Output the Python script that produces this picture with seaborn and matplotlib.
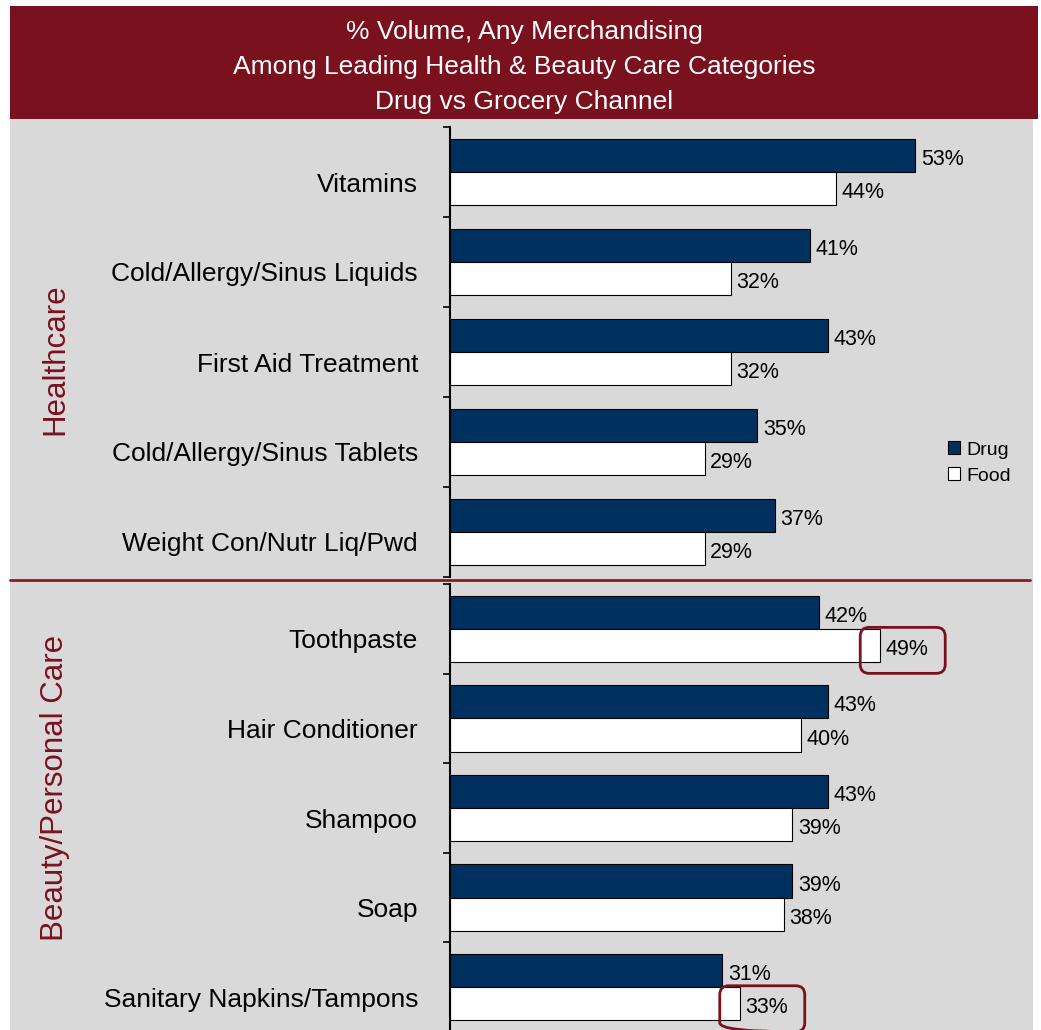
import numpy as np
import pandas as pd
import matplotlib
matplotlib.use("Agg")
import matplotlib.pyplot as plt
from matplotlib.patches import Rectangle, FancyBboxPatch, Patch
from matplotlib.lines import Line2D
from matplotlib.transforms import ScaledTranslation
import seaborn as sns

sns.set_theme(style="white")
plt.rcParams["font.family"] = ["Liberation Sans", "DejaVu Sans"]

# ---- data ----
title_lines = [
    "% Volume, Any Merchandising",
    "Among Leading Health & Beauty Care Categories",
    "Drug vs Grocery Channel",
]
channels = ["Drug", "Food"]

segments = ["Healthcare", "Beauty/Personal Care"]

healthcare_categories = [
    "Vitamins",
    "Cold/Allergy/Sinus Liquids",
    "First Aid Treatment",
    "Cold/Allergy/Sinus Tablets",
    "Weight Con/Nutr Liq/Pwd",
]
healthcare_drug = [53, 41, 43, 35, 37]
healthcare_food = [44, 32, 32, 29, 29]

beauty_categories = [
    "Toothpaste",
    "Hair Conditioner",
    "Shampoo",
    "Soap",
    "Sanitary Napkins/Tampons",
]
beauty_drug = [42, 43, 43, 39, 31]
beauty_food = [49, 40, 39, 38, 33]

# categories where the Food share is called out
highlighted = ["Toothpaste", "Sanitary Napkins/Tampons"]

# ---- style ----
NAVY = "#00305F"
MAROON = "#7A111E"
PANEL = "#D9D9D9"
palette = {"Drug": NAVY, "Food": "white"}
X_MAX = 66.4

W, H = 1041, 1030
fig = plt.figure(figsize=(W / 100, H / 100), dpi=100)
fig.patch.set_facecolor("white")


def fx(px):
    return px / W


def fy(py):
    return 1 - py / H


# background panel and title banner
fig.add_artist(Rectangle((fx(10), fy(1030)), fx(1033) - fx(10), fy(119) - fy(1030),
                         transform=fig.transFigure, facecolor=PANEL, edgecolor="none", zorder=0))
fig.add_artist(Rectangle((fx(10), fy(119)), fx(1038) - fx(10), fy(6) - fy(119),
                         transform=fig.transFigure, facecolor=MAROON, edgecolor="none", zorder=0))
for line, ypx in zip(title_lines, [30, 65, 100]):
    fig.text(fx(524), fy(ypx + 2), line, ha="center", va="center", color="white", fontsize=19)

label_shift = ScaledTranslation(0, -0.10, fig.dpi_scale_trans)


def draw_panel(top_px, bottom_px, categories, drug, food):
    ax = fig.add_axes([fx(450), fy(bottom_px), (1033 - 450) / W, (bottom_px - top_px) / H])
    ax.set_facecolor("none")
    df = pd.DataFrame({
        "Category": categories * 2,
        "Channel": ["Drug"] * len(drug) + ["Food"] * len(food),
        "Value": drug + food,
    })
    sns.barplot(data=df, x="Value", y="Category", hue="Channel", hue_order=channels,
                order=categories, palette=palette, saturation=1, width=0.74,
                orient="h", edgecolor="black", linewidth=0.8, legend=False, ax=ax)
    n = len(categories)
    ax.set_xlim(0, X_MAX)
    ax.set_ylim(n - 0.5, -0.5)
    ax.xaxis.set_visible(False)
    ax.set_ylabel("")
    for s in ["top", "right", "bottom"]:
        ax.spines[s].set_visible(False)
    ax.spines["left"].set_color("black")
    ax.spines["left"].set_linewidth(1.5)
    ax.set_yticks(range(n))
    ax.set_yticklabels(categories, fontsize=19, color="black")
    ax.tick_params(axis="y", which="major", length=0, pad=23)
    for lab in ax.get_yticklabels():
        lab.set_transform(lab.get_transform() + label_shift)
    ax.set_yticks(np.arange(-0.5, n), minor=True)
    ax.tick_params(axis="y", which="minor", left=True, length=5, width=1.2, color="black")

    for cont in ax.containers:
        texts = ax.bar_label(cont, fmt="%d%%", padding=4, fontsize=15.5, color="black")
        for t in texts:
            dx, dy = t.xyann
            t.xyann = (dx, dy - 3)

    # rounded call-out boxes around highlighted Food values
    bbox = ax.get_position()
    x_ppu = bbox.width * W / X_MAX
    y_ppu = bbox.height * H / n
    food_bars = ax.containers[1]
    for cat in highlighted:
        if cat not in categories:
            continue
        bar = food_bars[categories.index(cat)]
        end = bar.get_width()
        yc = bar.get_y() + bar.get_height() / 2 + 5 / y_ppu
        box = FancyBboxPatch((end - 20 / x_ppu, yc - 23 / y_ppu), 85 / x_ppu, 46 / y_ppu,
                             boxstyle=f"round,pad=0,rounding_size={9 / x_ppu}",
                             mutation_aspect=x_ppu / y_ppu,
                             facecolor="none", edgecolor=MAROON, linewidth=2,
                             clip_on=False, zorder=5)
        ax.add_patch(box)
    return ax


draw_panel(127, 577, healthcare_categories, healthcare_drug, healthcare_food)
draw_panel(584, 1032, beauty_categories, beauty_drug, beauty_food)

# segment labels and divider
fig.text(fx(55), fy(359), segments[0], rotation=90, ha="center", va="center",
         color=MAROON, fontsize=22.5)
fig.text(fx(55), fy(788), segments[1], rotation=90, ha="center", va="center",
         color=MAROON, fontsize=22.5)
fig.add_artist(Line2D([fx(10), fx(1030)], [fy(580), fy(580)], transform=fig.transFigure,
                      color="#8B1A2B", linewidth=2))

# legend
handles = [Patch(facecolor=palette[c], edgecolor="black", linewidth=0.8, label=c) for c in channels]
fig.legend(handles=handles, loc="center left", bbox_to_anchor=(fx(948), fy(463)),
           frameon=False, fontsize=14, labelcolor="black",
           handlelength=0.62, handleheight=0.62,
           handletextpad=0.3, labelspacing=0.45, borderaxespad=0, borderpad=0)

fig.savefig("out.png", dpi=100, facecolor="white")
